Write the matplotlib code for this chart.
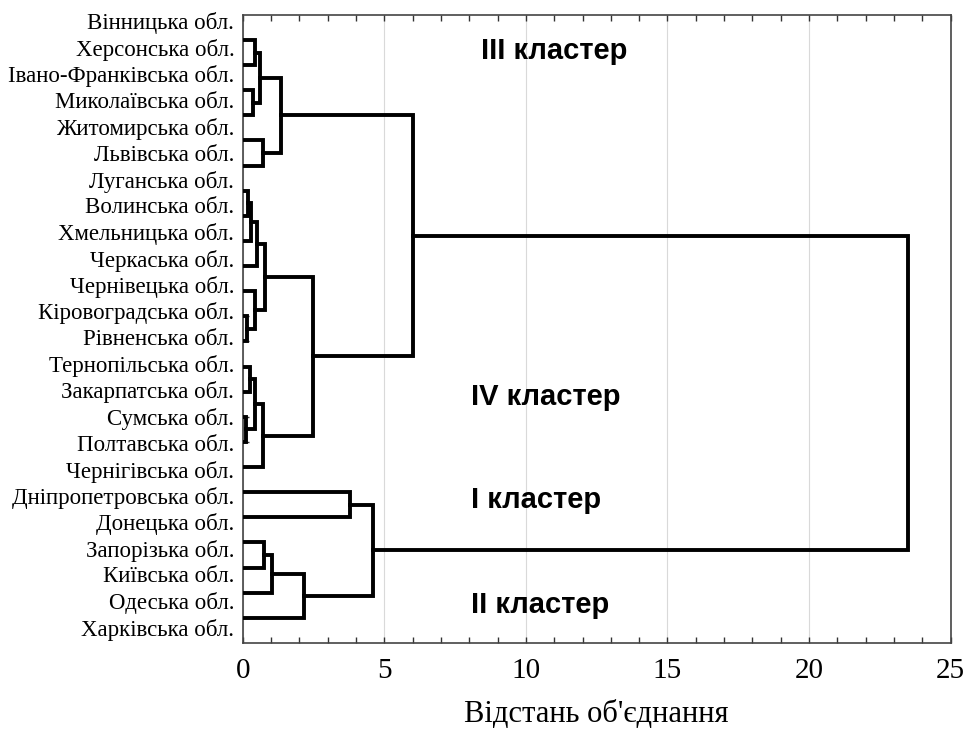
import matplotlib
matplotlib.use("Agg")
import matplotlib.pyplot as plt
from matplotlib.ticker import MultipleLocator

# leaves in dendrogram order (top to bottom)
regions = ["Вінницька обл.", "Херсонська обл.", "Івано-Франківська обл.",
           "Миколаївська обл.", "Житомирська обл.", "Львівська обл.",
           "Луганська обл.", "Волинська обл.", "Хмельницька обл.",
           "Черкаська обл.", "Чернівецька обл.", "Кіровоградська обл.",
           "Рівненська обл.", "Тернопільська обл.", "Закарпатська обл.",
           "Сумська обл.", "Полтавська обл.", "Чернігівська обл.",
           "Дніпропетровська обл.", "Донецька обл.", "Запорізька обл.",
           "Київська обл.", "Одеська обл.", "Харківська обл."]

# linkage, scipy style: new cluster ids start at len(regions)
merge_left = [15, 11, 6, 13, 26, 2, 0, 10, 27, 28, 30, 4, 32, 20, 33, 37, 34, 39, 38, 18, 43, 40, 45]
merge_right = [16, 12, 7, 14, 8, 3, 1, 25, 24, 9, 29, 5, 17, 21, 31, 22, 35, 23, 36, 19, 41, 42, 44]
merge_dist = [0.10, 0.17, 0.20, 0.26, 0.30, 0.35, 0.42, 0.45, 0.45, 0.50, 0.60, 0.70,
              0.72, 0.77, 0.80, 1.05, 1.34, 2.16, 2.50, 3.78, 4.61, 6.03, 23.49]

cluster_names = ["III кластер", "IV кластер", "I кластер", "II кластер"]

n = len(regions)
fig = plt.figure(figsize=(9.68, 7.31), dpi=100)
ax = fig.add_axes([0.2507, 0.1204, 0.7314, 0.8591])

pos = {i: float(i) for i in range(n)}
hgt = {i: 0.0 for i in range(n)}
for k, (a, b, d) in enumerate(zip(merge_left, merge_right, merge_dist)):
    ax.plot([hgt[a], d, d, hgt[b]], [pos[a], pos[a], pos[b], pos[b]],
            color="black", lw=2.8, solid_joinstyle="miter", zorder=3)
    pos[n + k] = (pos[a] + pos[b]) / 2
    hgt[n + k] = d

ax.set_xlim(0, 25)
ax.set_ylim(24.0, -0.995)
ax.xaxis.set_major_locator(MultipleLocator(5))
ax.xaxis.set_minor_locator(MultipleLocator(1))
ax.tick_params(axis="x", which="both", direction="in", top=True, length=4,
               width=1, pad=11, labelsize=21, color="#333333")
for lab in ax.get_xticklabels():
    lab.set_fontfamily("Liberation Serif")
ax.grid(axis="x", which="major", color="#d9d9d9", lw=0.8, zorder=0)
ax.set_yticks(range(n))
ax.tick_params(axis="y", direction="in", left=False, right=True, labelleft=False,
               length=4, width=1, color="#333333")
for s in ax.spines.values():
    s.set_linewidth(1.2)
    s.set_color("#444444")
ax.set_xlabel("Відстань об'єднання", fontsize=22, family="Liberation Serif", labelpad=11)

# labels sit on their own scale, slightly off the leaves as in the source
ax2 = ax.twinx()
ax2.set_ylim(23.6, -0.228)
ax2.set_yticks(range(n))
ax2.set_yticklabels(regions, family="Liberation Serif", fontsize=16.5)
ax2.yaxis.tick_left()
ax2.tick_params(axis="y", length=0, pad=6)
ax2.spines[:].set_visible(False)

lbl_font = dict(family="Liberation Sans", fontweight="bold", fontsize=21, va="center", ha="left")
ax.text(8.4, 0.45, cluster_names[0], **lbl_font)
ax.text(8.05, 14.2, cluster_names[1], **lbl_font)
ax.text(8.05, 18.3, cluster_names[2], **lbl_font)
ax.text(8.05, 22.5, cluster_names[3], **lbl_font)

fig.savefig("out.png", dpi=100)
